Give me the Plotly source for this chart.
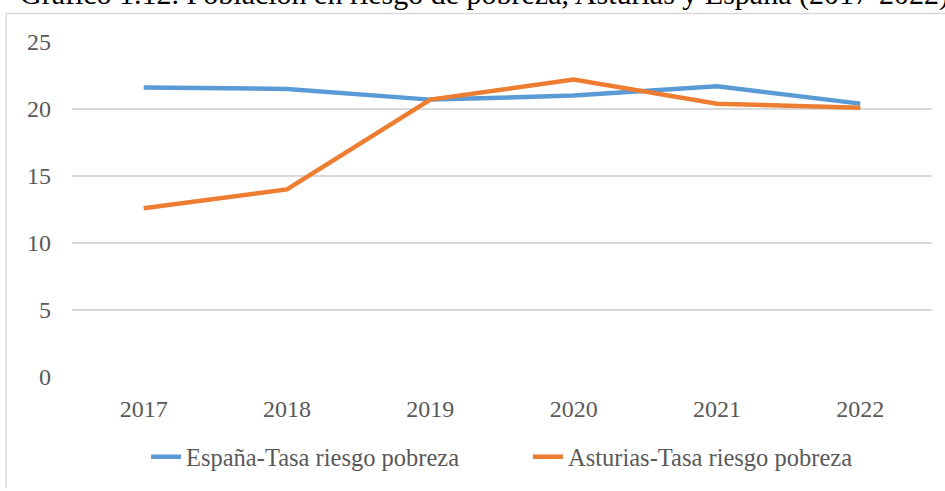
import plotly.graph_objects as go

years = ["2017", "2018", "2019", "2020", "2021", "2022"]
espana = [21.6, 21.5, 20.7, 21.0, 21.7, 20.4]
asturias = [12.6, 14.0, 20.7, 22.2, 20.4, 20.1]
y_ticks = [0, 5, 10, 15, 20, 25]

W, H = 945, 491
L, R, T, B = 72, 13, 42, 109
pw, ph = W - L - R, H - T - B

def px_x(p):
    return (p - L) / pw

def px_y(p):
    return (H - B - p) / ph

fig = go.Figure()
fig.add_trace(go.Scatter(x=years, y=espana, mode="lines", name="España-Tasa riesgo pobreza",
                         line=dict(color="#5B9BD5", width=4.5), legend="legend"))
fig.add_trace(go.Scatter(x=years, y=asturias, mode="lines", name="Asturias-Tasa riesgo pobreza",
                         line=dict(color="#ED7D31", width=4.5), legend="legend2"))

font = "Liberation Serif, Times New Roman, serif"
leg_common = dict(orientation="h", yanchor="middle", xanchor="left",
                  font=dict(size=24.5, color="#595959"), bgcolor="rgba(0,0,0,0)")
fig.update_layout(
    width=W, height=H,
    margin=dict(l=L, r=R, t=T, b=B),
    paper_bgcolor="white", plot_bgcolor="white",
    font=dict(family=font, size=24, color="#595959"),
    showlegend=True,
    legend=dict(x=px_x(146), y=px_y(463), **leg_common),
    legend2=dict(x=px_x(528), y=px_y(463), **leg_common),
    xaxis=dict(type="category", range=[-0.5, 5.5], showgrid=False, showline=False,
               ticks="", tickfont=dict(size=24, color="#595959"), ticklabelstandoff=15),
    yaxis=dict(range=[0, 25], tickvals=y_ticks, showgrid=True, gridcolor="#d9d9d9", gridwidth=1.5,
               zeroline=False, showline=False, ticks="", tickfont=dict(size=24, color="#595959"),
               ticklabelstandoff=20),
    annotations=[dict(text="Gráfico 1.12. Población en riesgo de pobreza, Asturias y España (2017-2022)",
                      xref="paper", yref="paper", x=px_x(484), y=px_y(-7), xanchor="center",
                      yanchor="middle", showarrow=False,
                      font=dict(family=font, size=30, color="black"))],
    shapes=[
        dict(type="line", xref="paper", yref="paper", x0=px_x(6), x1=px_x(6), y0=px_y(495), y1=px_y(13),
             line=dict(color="#d9d9d9", width=1.5)),
        dict(type="line", xref="paper", yref="paper", x0=px_x(6), x1=px_x(950), y0=px_y(13), y1=px_y(13),
             line=dict(color="#d9d9d9", width=1.5)),
    ],
)
fig.write_html("out.html", config={"displayModeBar": False},
               post_script="document.body.style.margin='0';")
